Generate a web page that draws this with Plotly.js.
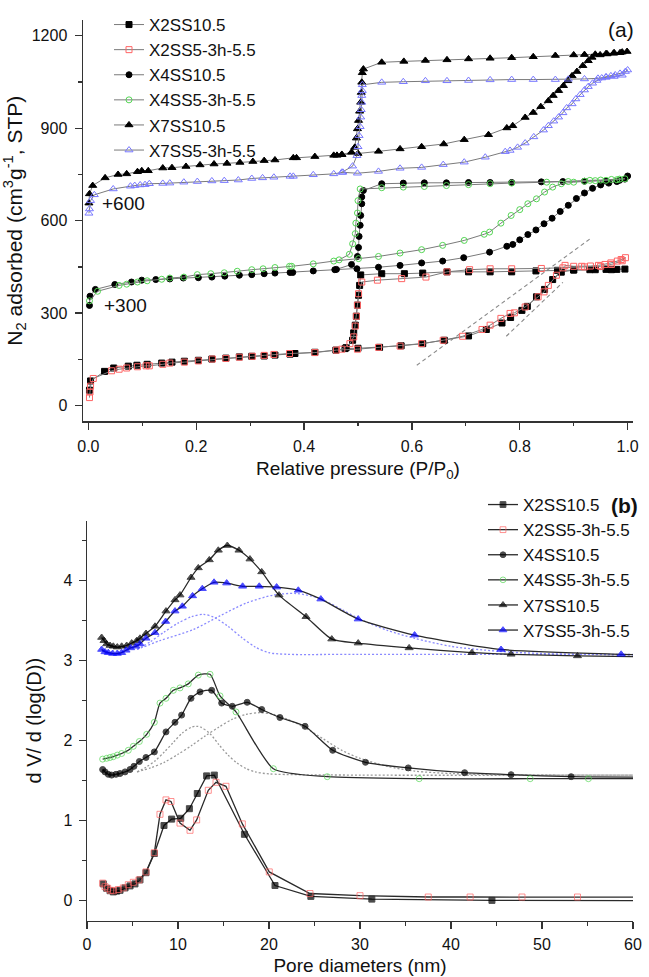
<!DOCTYPE html>
<html><head><meta charset="utf-8">
<script src="https://cdn.plot.ly/plotly-3.0.1.min.js"></script>
<style>html,body{margin:0;padding:0;background:#fff}#chart{width:649px;height:977px}</style>
</head><body><div id="chart"></div>
<script>
// ---------- (a) N2 isotherms (values as plotted, incl. +300 / +600 offsets) ----------
const names = ["X2SS10.5","X2SS5-3h-5.5","X4SS10.5","X4SS5-3h-5.5","X7SS10.5","X7SS5-3h-5.5"];

const isoP_X2SS105 = [0.002,0.004,0.03,0.047,0.074,0.09,0.109,0.136,0.155,0.178,0.204,0.229,0.255,0.28,0.303,0.326,0.346,0.374,0.383,0.42,0.459,0.476,0.50,0.54,0.58,0.62,0.66,0.705,0.738,0.767,0.783,0.804,0.814,0.831,0.846,0.861,0.877,0.9,0.93,0.96,0.98,0.995,
  0.97,0.94,0.9,0.87,0.83,0.785,0.745,0.705,0.665,0.62,0.586,0.544,0.505,0.503,0.501,0.499,0.497,0.495,0.492,0.49,0.478];
const isoV_X2SS105 = [50,80,111,122,128,131,134,138,141,144,147,151,154,158,160,161,164,167,169,173,180,185,186,189,194,201,212,226,247,268,286,309,322,353,377,409,433,440,441,442,442,443,
  441,441,440,439,437,434,434,434,434,430,428,428,424,390,358,326,290,261,236,212,188];

const isoP_X2SS5 = [0.002,0.003,0.004,0.009,0.043,0.057,0.071,0.091,0.107,0.113,0.138,0.151,0.178,0.204,0.23,0.255,0.28,0.304,0.326,0.344,0.373,0.42,0.46,0.499,0.538,0.578,0.618,0.658,0.694,0.73,0.745,0.765,0.782,0.79,0.81,0.834,0.845,0.853,0.868,0.884,0.9,0.915,0.931,0.946,0.958,0.969,0.981,0.988,0.996,
  0.99,0.97,0.95,0.92,0.88,0.84,0.785,0.745,0.707,0.665,0.626,0.581,0.536,0.507,0.501,0.499,0.497,0.495,0.492,0.485,0.47];
const isoV_X2SS5 = [26,44,63,88,113,118,122,126,129,129,134,138,141,145,151,153,157,160,163,166,169,172,180,183,189,193,201,212,225,247,261,283,299,301,320,353,369,390,423,455,452,452,453,455,458,463,469,474,480,
  470,458,452,450,447,445,444,444,441,434,417,412,407,401,363,326,290,258,223,201,183];

const isoP_X4SS105 = [0.002,0.003,0.013,0.049,0.08,0.099,0.125,0.151,0.176,0.204,0.229,0.253,0.28,0.303,0.326,0.346,0.374,0.379,0.417,0.457,0.498,0.538,0.578,0.618,0.657,0.696,0.744,0.776,0.787,0.80,0.815,0.83,0.845,0.86,0.875,0.89,0.905,0.92,0.935,0.95,0.965,0.98,0.995,1.0,
  0.985,0.96,0.92,0.88,0.84,0.785,0.745,0.705,0.664,0.623,0.584,0.544,0.51,0.507,0.507,0.505,0.504,0.502,0.501,0.499,0.488,0.46];
const isoV_X4SS105 = [325,355,377,393,401,407,409,411,414,415,417,420,423,425,428,430,432,432,437,441,444,449,455,463,469,480,498,517,523,538,555,570,590,608,630,650,672,690,705,716,722,727,735,745,
  731,729,728,727,726,724,724,724,723,723,722,720,698,677,655,617,585,549,513,484,458,442];

const isoP_X4SS5 = [0.002,0.017,0.057,0.071,0.091,0.109,0.136,0.151,0.177,0.202,0.227,0.252,0.276,0.303,0.324,0.346,0.373,0.377,0.417,0.455,0.501,0.538,0.578,0.618,0.657,0.697,0.734,0.744,0.765,0.784,0.80,0.815,0.831,0.846,0.861,0.877,0.9,0.92,0.94,0.96,0.98,0.995,
  0.985,0.97,0.95,0.93,0.89,0.85,0.785,0.745,0.705,0.664,0.623,0.584,0.544,0.504,0.5,0.499,0.496,0.495,0.49,0.484,0.465];
const isoV_X4SS5 = [340,371,390,394,401,405,410,414,417,425,428,431,436,441,444,448,452,452,460,469,477,484,495,506,520,536,556,563,592,617,636,655,671,693,709,720,725,728,730,731,733,736,
  735,734,732,731,727,725,722,720,717,714,711,709,707,703,665,625,592,558,525,491,473];

const isoP_X7SS105 = [0.001,0.002,0.008,0.031,0.055,0.071,0.091,0.099,0.111,0.138,0.155,0.181,0.207,0.233,0.257,0.281,0.305,0.326,0.346,0.38,0.386,0.42,0.455,0.461,0.47,0.50,0.538,0.578,0.618,0.659,0.697,0.742,0.776,0.787,0.81,0.825,0.839,0.853,0.862,0.872,0.881,0.889,0.897,0.906,0.917,0.927,0.934,0.949,0.962,0.974,0.986,0.999,
  0.99,0.975,0.96,0.94,0.92,0.9,0.866,0.825,0.785,0.745,0.705,0.665,0.625,0.585,0.544,0.51,0.508,0.507,0.506,0.505,0.503,0.501,0.499,0.497,0.494,0.488,0.47];
const isoV_X7SS105 = [657,687,714,739,750,752,759,762,762,771,772,776,781,784,786,789,792,795,797,804,804,808,812,812,814,818,825,833,840,849,863,879,901,908,935,951,970,989,1006,1022,1038,1054,1070,1084,1103,1119,1130,1138,1141,1143,1145,1149,
  1147,1145,1142,1140,1139,1138,1136,1132,1129,1127,1125,1122,1120,1117,1114,1092,1080,1049,1016,984,955,925,898,868,838,822,815];

const isoP_X7SS5 = [0.001,0.002,0.004,0.011,0.046,0.078,0.086,0.096,0.105,0.113,0.138,0.151,0.177,0.202,0.229,0.252,0.278,0.303,0.323,0.344,0.374,0.38,0.417,0.455,0.472,0.499,0.538,0.578,0.618,0.658,0.697,0.736,0.773,0.782,0.796,0.81,0.826,0.844,0.853,0.863,0.872,0.88,0.887,0.897,0.904,0.912,0.92,0.927,0.935,0.943,0.952,0.96,0.969,0.977,0.986,0.996,1.0,
  0.99,0.975,0.96,0.945,0.92,0.89,0.866,0.825,0.785,0.745,0.705,0.665,0.625,0.584,0.544,0.508,0.508,0.507,0.507,0.506,0.505,0.504,0.502,0.5,0.498,0.49,0.47];
const isoV_X7SS5 = [624,638,665,684,703,712,714,716,717,720,721,722,725,727,729,730,732,737,739,741,744,744,749,752,757,754,760,770,773,782,790,806,824,828,838,852,872,894,908,923,936,950,966,979,995,1009,1024,1035,1046,1055,1063,1067,1070,1073,1078,1084,1089,
  1072,1068,1065,1062,1060,1059,1058,1058,1058,1057,1055,1054,1054,1051,1049,1041,1022,1006,984,960,936,905,876,840,811,777,757];

// tangent guide lines (dashed, grey)
const tanP1 = [0.609, 0.931], tanV1 = [131, 542];
const tanP2 = [0.775, 0.88],  tanV2 = [225, 400];

// ---------- (b) pore size distributions ----------
const psdD_X2SS105 = [1.79,2.16,2.53,2.89,3.26,3.63,4.18,4.73,5.27,5.82,6.48,7.4,8.46,9.3,10.3,11.25,12.12,13.15,13.99,17.3,20.66,24.6,31.3,44.5,60];
const psdY_X2SS105 = [0.21,0.155,0.125,0.11,0.12,0.13,0.16,0.185,0.21,0.26,0.35,0.59,0.94,1.02,1.03,1.15,1.34,1.56,1.57,0.83,0.19,0.054,0.02,0.004,0.0];

const psdD_X2SS5 = [1.72,1.98,2.27,2.6,2.9,3.44,3.99,4.54,5.09,5.71,6.48,7.4,8.02,8.68,9.23,10.22,11.32,12.05,13.33,14.18,15.27,17.07,20.03,24.5,30.0,37.5,42.1,47.8,53.9,60];
const psdY_X2SS5 = [0.22,0.175,0.155,0.13,0.125,0.14,0.16,0.2,0.23,0.26,0.36,0.6,1.08,1.26,1.24,0.97,0.88,1.01,1.38,1.48,1.43,0.96,0.36,0.09,0.063,0.046,0.046,0.046,0.046,0.045];

const psdD_X4SS105 = [1.72,1.98,2.34,2.71,3.19,3.63,4.18,4.73,5.16,5.75,6.48,7.4,8.68,9.67,10.4,11.43,12.42,13.7,14.8,15.97,17.6,19.2,21.2,23.96,27.0,30.6,35.3,41.5,46.6,53.2,60];
const psdY_X4SS105 = [1.64,1.61,1.58,1.57,1.58,1.59,1.61,1.64,1.68,1.74,1.79,1.86,2.11,2.23,2.32,2.53,2.61,2.63,2.47,2.43,2.48,2.39,2.29,2.18,1.88,1.73,1.66,1.6,1.575,1.55,1.545];

const psdD_X4SS5 = [1.72,2.16,2.53,2.89,3.33,3.81,4.54,5.09,5.75,6.56,7.4,8.02,8.68,9.49,10.22,11.13,12.23,13.52,14.62,16.37,20.48,26.4,36.5,48.7,55.1,60];
const psdY_X4SS5 = [1.77,1.78,1.79,1.8,1.82,1.84,1.88,1.93,1.99,2.08,2.23,2.47,2.53,2.63,2.66,2.71,2.82,2.83,2.56,2.36,1.65,1.55,1.525,1.525,1.525,1.525];

const psdD_X7SS105 = [1.61,1.87,2.16,2.53,2.89,3.33,3.81,4.36,4.91,5.46,5.82,6.48,7.47,8.68,9.67,10.22,11.43,12.23,13.44,14.43,15.42,16.7,17.91,19.2,21.1,24.07,26.9,29.8,35.4,42.3,46.6,53.9,60];
const psdY_X7SS105 = [3.29,3.25,3.21,3.19,3.18,3.17,3.18,3.19,3.22,3.25,3.28,3.34,3.43,3.62,3.76,3.82,4.04,4.16,4.26,4.38,4.44,4.38,4.27,4.11,3.82,3.55,3.27,3.22,3.16,3.1,3.08,3.06,3.05];

const psdD_X7SS5 = [1.61,1.98,2.34,2.82,3.33,3.81,4.29,4.8,5.38,5.82,6.48,7.47,8.64,9.67,10.48,11.6,12.67,13.96,15.35,17.1,18.93,20.84,23.22,25.7,29.8,36.0,45.5,58.7,60];
const psdY_X7SS5 = [3.14,3.11,3.1,3.09,3.09,3.1,3.13,3.16,3.18,3.21,3.28,3.35,3.49,3.62,3.68,3.81,3.9,3.98,3.97,3.93,3.93,3.92,3.88,3.77,3.52,3.32,3.14,3.08,3.075];

// fitted components (dotted)
const fitD_X4a = [5.5,6.5,7.5,8.5,9.5,10.5,11.5,12,12.5,13.5,14.5,15.5,16.5,17.5,18.5,20,30,60];
const fitY_X4a = [1.61,1.67,1.75,1.86,1.98,2.1,2.17,2.18,2.17,2.09,1.95,1.82,1.72,1.65,1.61,1.585,1.57,1.57];
const fitD_X4b = [5.5,7,8.5,10,11.5,13,14.5,16,17.5,19,20.5,22,24,26,28,30,33,36,40,45,60];
const fitY_X4b = [1.61,1.66,1.73,1.83,1.94,2.06,2.17,2.27,2.33,2.35,2.33,2.27,2.16,2.02,1.88,1.78,1.68,1.62,1.59,1.575,1.57];
const fitD_X7a = [5.5,7,8.5,10,11.5,12.8,14,15.5,17,18.5,20,22,30,60];
const fitY_X7a = [3.14,3.24,3.36,3.47,3.55,3.58,3.54,3.43,3.29,3.17,3.1,3.08,3.08,3.08];
const fitD_X7b = [5.5,8,11.7,14.6,17.5,20.5,23,25.5,28,30,33,36,40,45,50,60];
const fitY_X7b = [3.14,3.25,3.39,3.56,3.72,3.82,3.84,3.78,3.64,3.52,3.38,3.28,3.18,3.12,3.09,3.07];

// ---------- styling ----------
const W = 649, H = 977;
const FONT = '"Liberation Sans", Arial, sans-serif';
const px = v => v / W, py = v => 1 - v / H;

const markStyle = [
  {symbol:'square', color:'#000', size:6},
  {symbol:'square-open', color:'#ff6464', size:6},
  {symbol:'circle', color:'#000', size:6},
  {symbol:'circle-open', color:'#55d655', size:6},
  {symbol:'triangle-up', color:'#000', size:7},
  {symbol:'triangle-up-open', color:'#7878ff', size:7}
];
const isoX = [isoP_X2SS105, isoP_X2SS5, isoP_X4SS105, isoP_X4SS5, isoP_X7SS105, isoP_X7SS5];
const isoY = [isoV_X2SS105, isoV_X2SS5, isoV_X4SS105, isoV_X4SS5, isoV_X7SS105, isoV_X7SS5];
const psdX = [psdD_X2SS105, psdD_X2SS5, psdD_X4SS105, psdD_X4SS5, psdD_X7SS105, psdD_X7SS5];
const psdY = [psdY_X2SS105, psdY_X2SS5, psdY_X4SS105, psdY_X4SS5, psdY_X7SS105, psdY_X7SS5];

const traces = [];
[[tanP1,tanV1],[tanP2,tanV2]].forEach(([x,y]) => traces.push({
  x, y, xaxis:'x', yaxis:'y', mode:'lines', showlegend:false, hoverinfo:'skip',
  line:{color:'#8a8a8a', width:1.1, dash:'4px,3px'}
}));
names.forEach((n,i) => traces.push({
  x: isoX[i], y: isoY[i], xaxis:'x', yaxis:'y', name:n, legend:'legend',
  mode:'lines+markers', line:{color:'#7a7a7a', width:1},
  marker:{symbol:markStyle[i].symbol, color:markStyle[i].color, size:markStyle[i].size, line:{width:1, color:markStyle[i].color}}
}));
[[fitD_X4a,fitY_X4a,'#9a9a9a'],[fitD_X4b,fitY_X4b,'#9a9a9a'],[fitD_X7a,fitY_X7a,'#8a8aff'],[fitD_X7b,fitY_X7b,'#8a8aff']].forEach(([x,y,c]) => traces.push({
  x, y, xaxis:'x2', yaxis:'y2', mode:'lines', showlegend:false, hoverinfo:'skip',
  line:{color:c, width:1.3, dash:'2px,2px', shape:'spline', smoothing:0.8}
}));
const bottomStyle = markStyle.map(s => Object.assign({}, s));
bottomStyle[5] = {symbol:'triangle-up', color:'#0000ff', size:7};
names.forEach((n,i) => {
  const len = psdX[i].length;
  const sizes = psdX[i].map((_,k) => k === len-1 ? 0 : bottomStyle[i].size);
  traces.push({
    x: psdX[i], y: psdY[i], xaxis:'x2', yaxis:'y2', name:n, legend:'legend2',
    mode:'lines+markers',
    line:{color:'#2a2a2a', width:1.3, shape: i < 2 ? 'linear' : 'spline', smoothing:0.6},
    marker:{symbol:bottomStyle[i].symbol, color:bottomStyle[i].color, size:sizes, line:{width:1, color:bottomStyle[i].color}}
  });
});

const TF = {family:FONT, size:16, color:'#111'};
const axisBase = {
  showline:true, linecolor:'#333', linewidth:1.5, ticks:'outside', ticklen:7, tickwidth:1.3, tickcolor:'#333',
  showgrid:false, zeroline:false, tickfont:TF
};
const minorBase = {ticks:'outside', ticklen:3.5, tickcolor:'#333', tickwidth:1.2};
const ann = (text, x, y, size) => ({text, x:px(x), y:py(y), xref:'paper', yref:'paper', xanchor:'center', yanchor:'middle', showarrow:false, font:{family:FONT, size, color:'#111'}});
const layout = {
  width:W, height:H, margin:{l:0,r:0,t:0,b:0}, paper_bgcolor:'#fff', plot_bgcolor:'#fff',
  font:{family:FONT, color:'#111'},
  xaxis: Object.assign({}, axisBase, {domain:[px(83), px(633)], anchor:'y', range:[-0.01,1.01], tick0:0, dtick:0.2, tickformat:'.1f', ticklabelstandoff:3,
    minor:Object.assign({tick0:0, dtick:0.1}, minorBase),
    title:{text:'Relative pressure (P/P<sub>0</sub>)', font:{family:FONT, size:19, color:'#111'}, standoff:8}}),
  yaxis: Object.assign({}, axisBase, {domain:[py(421), py(20.4)], anchor:'x', range:[-50,1250], tick0:0, dtick:300, ticklabelstandoff:4,
    minor:Object.assign({tick0:0, dtick:150}, minorBase),
    title:{text:'N<sub>2</sub> adsorbed (cm<sup>3</sup>g<sup>-1</sup>, STP)', font:{family:FONT, size:21, color:'#111'}, standoff:6}}),
  xaxis2: Object.assign({}, axisBase, {domain:[px(87), px(633)], anchor:'y2', range:[0,60], tick0:0, dtick:10, ticklabelstandoff:2,
    minor:Object.assign({tick0:0, dtick:5}, minorBase),
    title:{text:'Pore diameters (nm)', font:{family:FONT, size:19, color:'#111'}, standoff:6}}),
  yaxis2: Object.assign({}, axisBase, {domain:[py(920.7), py(520.7)], anchor:'x2', range:[-0.25,4.75], tick0:0, dtick:1, ticklabelstandoff:3,
    minor:Object.assign({tick0:0, dtick:0.5}, minorBase),
    title:{text:'d V/ d (log(D))', font:{family:FONT, size:20, color:'#111'}, standoff:16}}),
  legend:{x:px(109), xanchor:'left', y:py(7), yanchor:'top', bgcolor:'rgba(0,0,0,0)', font:{family:FONT, size:17, color:'#111'}, tracegroupgap:0, itemwidth:30},
  legend2:{x:px(483), xanchor:'left', y:py(487), yanchor:'top', bgcolor:'rgba(0,0,0,0)', font:{family:FONT, size:17, color:'#111'}, tracegroupgap:0, itemwidth:30},
  annotations:[
    ann('+600', 123, 203, 19),
    ann('+300', 125, 305, 19),
    ann('(a)', 621, 30, 21),
    ann('<b>(b)</b>', 624, 505, 21)
  ],
  showlegend:true
};
Plotly.newPlot('chart', traces, layout, {displayModeBar:false, staticPlot:true});
</script></body></html>
